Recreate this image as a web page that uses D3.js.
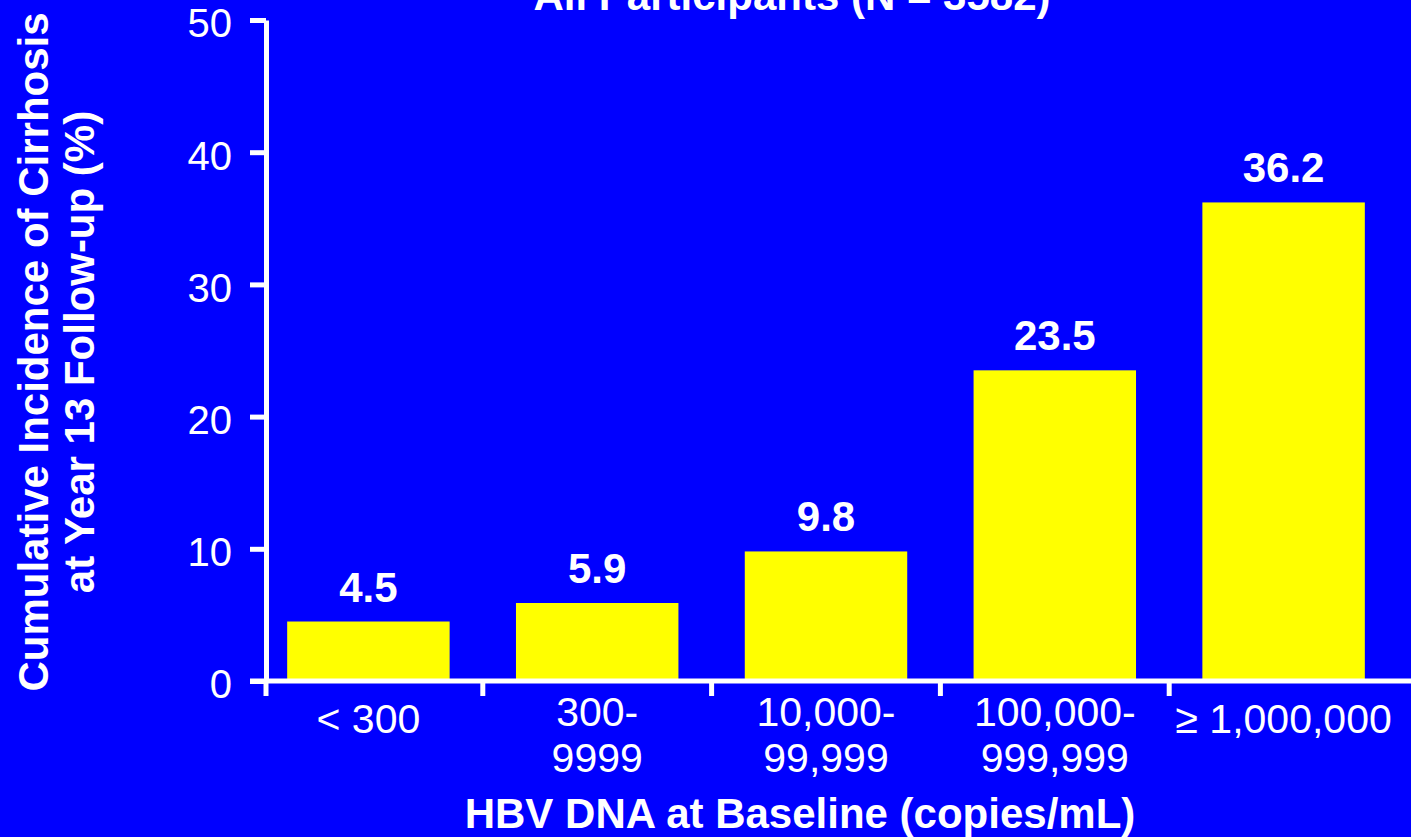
<!DOCTYPE html>
<html>
<head>
<meta charset="utf-8">
<script src="https://cdn.jsdelivr.net/npm/d3@7"></script>
<style>
  body { margin: 0; background: #0000ff; }
  svg { display: block; font-family: "Liberation Sans", Arial, sans-serif; }
</style>
</head>
<body>
<div id="chart"></div>
<script>
// HBV DNA categories (each label may span two lines)
const categories = ["< 300", "300-9999", "10,000-99,999", "100,000-999,999", "≥ 1,000,000"];
const categoryLines = [["< 300"], ["300-", "9999"], ["10,000-", "99,999"], ["100,000-", "999,999"], ["≥ 1,000,000"]];
const values = [4.5, 5.9, 9.8, 23.5, 36.2];
const yTicks = [0, 10, 20, 30, 40, 50];

const width = 1411, height = 837;

const svg = d3.select("#chart")
  .append("svg")
  .attr("width", width)
  .attr("height", height);

svg.append("rect")
  .attr("width", width)
  .attr("height", height)
  .attr("fill", "#0000ff");

const x = d3.scaleBand()
  .domain(categories)
  .range([254, 1398])
  .paddingInner(0.29)
  .paddingOuter(0.145);

const y = d3.scaleLinear()
  .domain([0, 50])
  .range([681, 20]);

const axisX = 266;

// bars
svg.append("g")
  .selectAll("rect")
  .data(values)
  .enter()
  .append("rect")
  .attr("x", (d, i) => x(categories[i]))
  .attr("y", d => y(d))
  .attr("width", x.bandwidth())
  .attr("height", d => y(0) - y(d))
  .attr("fill", "#ffff00");

// value labels
svg.append("g")
  .selectAll("text")
  .data(values)
  .enter()
  .append("text")
  .attr("x", (d, i) => x(categories[i]) + x.bandwidth() / 2)
  .attr("y", d => y(d) - 20)
  .attr("text-anchor", "middle")
  .attr("fill", "white")
  .attr("font-weight", "bold")
  .attr("font-size", 42)
  .text(d => d.toFixed(1));

// y axis
const yAxis = svg.append("g")
  .attr("transform", `translate(${axisX},0)`)
  .call(d3.axisLeft(y).tickValues(yTicks).tickSize(16).tickSizeOuter(0).tickPadding(18));

yAxis.select(".domain").attr("stroke", "white").attr("stroke-width", 5);
yAxis.selectAll(".tick line").attr("stroke", "white").attr("stroke-width", 5);
yAxis.selectAll(".tick text")
  .attr("fill", "white")
  .attr("font-size", 40)
  .attr("dy", "0.42em")
  .attr("font-family", "'Liberation Sans', Arial, sans-serif");

// x axis line
svg.append("line")
  .attr("x1", 250)
  .attr("x2", width)
  .attr("y1", y(0))
  .attr("y2", y(0))
  .attr("stroke", "white")
  .attr("stroke-width", 5);

// x ticks at category boundaries
const gap = x.step() * x.paddingInner();
const boundaries = [axisX].concat(categories.slice(1).map(c => x(c) - gap / 2));
svg.append("g")
  .selectAll("line")
  .data(boundaries)
  .enter()
  .append("line")
  .attr("x1", d => d)
  .attr("x2", d => d)
  .attr("y1", y(0))
  .attr("y2", y(0) + 15)
  .attr("stroke", "white")
  .attr("stroke-width", 5);

// x tick labels: single lines sit a bit lower than two-line labels
const xLabels = svg.append("g")
  .selectAll("text")
  .data(categoryLines)
  .enter()
  .append("text")
  .attr("text-anchor", "middle")
  .attr("fill", "white")
  .attr("font-size", 41)
  .attr("transform", (d, i) =>
    `translate(${x(categories[i]) + x.bandwidth() / 2},${d.length > 1 ? 726 : 733})`);

xLabels.selectAll("tspan")
  .data(d => d)
  .enter()
  .append("tspan")
  .attr("x", 0)
  .attr("y", (d, i) => i * 46)
  .text(d => d);

// x axis title
svg.append("text")
  .attr("x", 800)
  .attr("y", 828)
  .attr("text-anchor", "middle")
  .attr("fill", "white")
  .attr("font-weight", "bold")
  .attr("font-size", 42)
  .text("HBV DNA at Baseline (copies/mL)");

// y axis title
const yTitle = svg.append("text")
  .attr("transform", "translate(0,352) rotate(-90)")
  .attr("text-anchor", "middle")
  .attr("fill", "white")
  .attr("font-weight", "bold")
  .attr("font-size", 42);

yTitle.append("tspan").attr("x", 0).attr("y", 48).text("Cumulative Incidence of Cirrhosis");
yTitle.append("tspan").attr("x", 0).attr("y", 94).text("at Year 13 Follow-up (%)");

// chart title, cut off at the top edge
svg.append("text")
  .attr("x", 792)
  .attr("y", 10)
  .attr("text-anchor", "middle")
  .attr("fill", "white")
  .attr("font-weight", "bold")
  .attr("font-size", 42)
  .text("All Participants (N = 3582)");
</script>
</body>
</html>
